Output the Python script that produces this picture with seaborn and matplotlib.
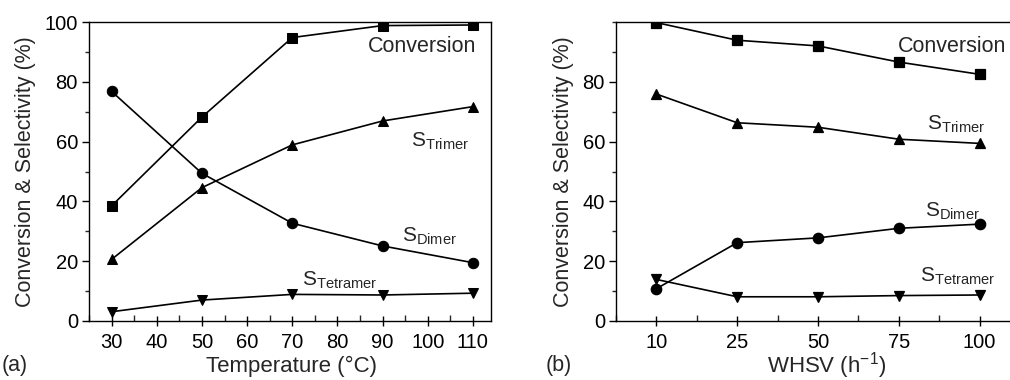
import numpy as np
import pandas as pd
import matplotlib
matplotlib.use("Agg")
import matplotlib.pyplot as plt
from matplotlib.ticker import MultipleLocator
import seaborn as sns

# panel (a): temperature series
temperature = [30, 50, 70, 90, 110]
conv_a = [38.5, 68.2, 94.8, 98.8, 99.0]
trimer_a = [20.6, 44.6, 58.9, 66.9, 71.7]
dimer_a = [76.8, 49.4, 32.7, 25.1, 19.5]
tetramer_a = [3.1, 7.0, 8.9, 8.7, 9.3]

# panel (b): WHSV series (categorical axis)
whsv = ["10", "25", "50", "75", "100"]
conv_b = [99.8, 93.9, 92.0, 86.6, 82.5]
trimer_b = [75.9, 66.3, 64.8, 60.8, 59.4]
dimer_b = [10.8, 26.2, 27.8, 31.0, 32.4]
tetramer_b = [13.9, 8.1, 8.1, 8.5, 8.7]

sns.set_style("ticks")
plt.rcParams['font.family'] = ['Liberation Sans', 'DejaVu Sans']
plt.rcParams['mathtext.fontset'] = 'custom'
plt.rcParams['mathtext.rm'] = 'Liberation Sans'
plt.rcParams['mathtext.it'] = 'Liberation Sans'

FS = 14.5      # tick labels
LFS = 15.5     # axis labels
AFS = 15       # annotations
series_markers = ['s', '^', 'o', 'v']
line_kw = dict(color='k', linewidth=1.2, markersize=7.5, markeredgecolor='k')

fig = plt.figure(figsize=(10.1, 3.8), dpi=100)
W, H = 1010, 380
ax1 = fig.add_axes([89 / W, 1 - 321 / H, (491 - 89) / W, (321 - 22) / H])
ax2 = fig.add_axes([616 / W, 1 - 321 / H, (1016 - 616) / W, (321 - 22) / H])

for vals, m in zip([conv_a, trimer_a, dimer_a, tetramer_a], series_markers):
    sns.lineplot(x=temperature, y=vals, ax=ax1, marker=m, **line_kw)

df_b = pd.DataFrame({'x': whsv * 4,
                     'y': conv_b + trimer_b + dimer_b + tetramer_b,
                     's': sum([[k] * 5 for k in 'ABCD'], [])})
for k, m in zip('ABCD', series_markers):
    sub = df_b[df_b['s'] == k]
    sns.pointplot(data=sub, x='x', y='y', ax=ax2, order=whsv, color='k',
                  marker=m, markersize=7.5, linewidth=1.2, errorbar=None)

ax1.set_xlim(25, 114)
ax1.set_ylim(0, 100)
ax1.xaxis.set_major_locator(MultipleLocator(10))
ax1.xaxis.set_minor_locator(MultipleLocator(5))
ax1.yaxis.set_major_locator(MultipleLocator(20))
ax1.yaxis.set_minor_locator(MultipleLocator(10))

ax2.set_xlim(-0.5, 4.45)
ax2.set_ylim(0, 100)
ax2.set_yticks([0, 20, 40, 60, 80])
ax2.set_xticks(np.arange(-0.5, 4.5, 0.5), minor=True)
ax2.yaxis.set_minor_locator(MultipleLocator(10))

for ax in (ax1, ax2):
    for sp in ax.spines.values():
        sp.set_linewidth(1.0)
        sp.set_color('k')
        sp.set_visible(True)
    ax.tick_params(axis='x', which='major', direction='inout', length=7, width=1,
                   labelsize=FS, pad=5, colors='k')
    ax.tick_params(axis='x', which='minor', direction='in', length=4, width=1)
    ax.tick_params(axis='y', which='major', direction='out', length=5, width=1,
                   labelsize=FS, pad=3, colors='k')
    ax.tick_params(axis='y', which='minor', direction='out', length=3, width=1)
    ax.set_ylabel('Conversion & Selectivity (%)', fontsize=LFS, labelpad=6)
    ax.set_xlabel('')

# x labels placed at fixed spots so the superscript does not push one down
fig.text(292 / W, 1 - 366 / H, 'Temperature (°C)', fontsize=LFS + 0.5, ha='center', va='center')
fig.text(827 / W, 1 - 366 / H, 'WHSV (h$^{-1}$)', fontsize=LFS + 0.5, ha='center', va='center')

# series annotations
ax1.text(368 / W, 1 - 47 / H, 'Conversion', transform=fig.transFigure, fontsize=AFS + 0.5, va='center')
ax1.text(411 / W, 1 - 141 / H, 'S$_{\\mathrm{Trimer}}$', transform=fig.transFigure, fontsize=AFS, va='center')
ax1.text(402 / W, 1 - 236 / H, 'S$_{\\mathrm{Dimer}}$', transform=fig.transFigure, fontsize=AFS, va='center')
ax1.text(302 / W, 1 - 280 / H, 'S$_{\\mathrm{Tetramer}}$', transform=fig.transFigure, fontsize=AFS, va='center')

ax2.text(898 / W, 1 - 47 / H, 'Conversion', transform=fig.transFigure, fontsize=AFS + 0.5, va='center')
ax2.text(927 / W, 1 - 124 / H, 'S$_{\\mathrm{Trimer}}$', transform=fig.transFigure, fontsize=AFS, va='center')
ax2.text(925 / W, 1 - 211 / H, 'S$_{\\mathrm{Dimer}}$', transform=fig.transFigure, fontsize=AFS, va='center')
ax2.text(920 / W, 1 - 276 / H, 'S$_{\\mathrm{Tetramer}}$', transform=fig.transFigure, fontsize=AFS, va='center')

fig.text(2 / W, 1 - 366 / H, '(a)', fontsize=LFS, va='center')
fig.text(546 / W, 1 - 366 / H, '(b)', fontsize=LFS, va='center')

fig.savefig('out.png', dpi=100)
